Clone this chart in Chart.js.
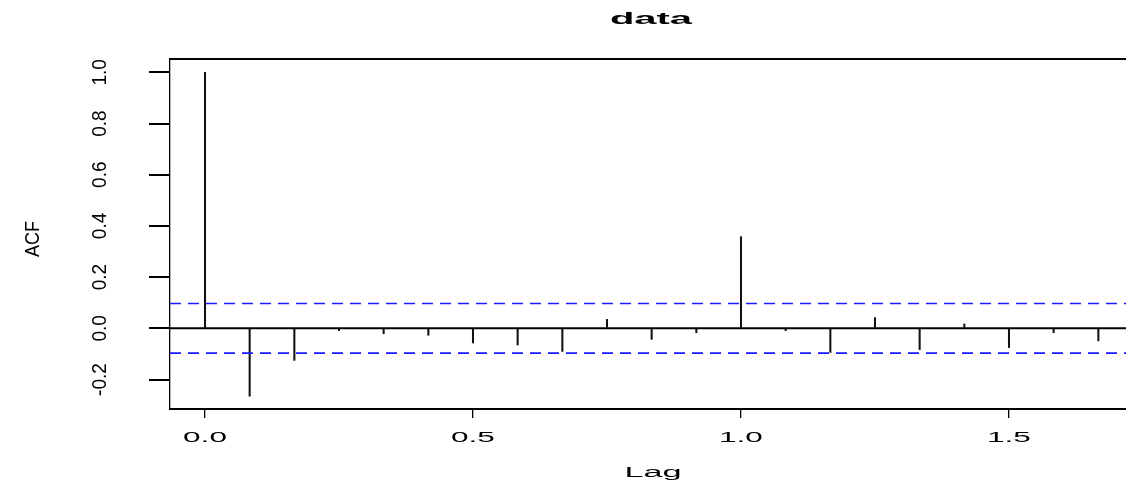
<!DOCTYPE html>
<html>
<head>
<meta charset="utf-8">
<script src="https://cdn.jsdelivr.net/npm/chart.js@4.4.0/dist/chart.umd.min.js"></script>
<style>
  html, body { margin: 0; padding: 0; background: #fff; overflow: hidden; }
  canvas { display: block; }
</style>
</head>
<body>
<canvas id="acfChart" width="1126" height="484"></canvas>
<script>
// lags (years, monthly series) and autocorrelation
const lags = [0, 0.0833, 0.1667, 0.25, 0.3333, 0.4167, 0.5, 0.5833, 0.6667, 0.75, 0.8333,
              0.9167, 1.0, 1.0833, 1.1667, 1.25, 1.3333, 1.4167, 1.5, 1.5833, 1.6667];
const acfValues = [1.0, -0.265, -0.125, -0.009, -0.021, -0.027, -0.057, -0.065, -0.090, 0.035, -0.043,
                   -0.017, 0.358, -0.009, -0.094, 0.042, -0.083, 0.017, -0.075, -0.017, -0.049];
const ciBound = 0.097;
const xTicks = [0, 0.5, 1.0, 1.5];
const xTickLabels = ['0.0', '0.5', '1.0', '1.5'];
const yTicks = [-0.2, 0, 0.2, 0.4, 0.6, 0.8, 1.0];
const yTickLabels = ['-0.2', '0.0', '0.2', '0.4', '0.6', '0.8', '1.0'];
const titleText = 'data';
const xTitle = 'Lag';
const yTitle = 'ACF';

const xMin = -0.0653, xMax = 1.7183;
const yMin = -0.315, yMax = 1.052;
const FONT = "'Liberation Sans', Arial, sans-serif";
const STRETCH = 2.25; // horizontal text is stretched in the original image

function stretchedText(ctx, txt, x, y, font, sx) {
  ctx.save();
  ctx.font = font;
  ctx.textAlign = 'center';
  ctx.textBaseline = 'middle';
  ctx.translate(x, y);
  ctx.scale(sx, 1);
  ctx.fillText(txt, 0, 0);
  ctx.restore();
}

// rotated text reading upwards; k widens glyph height (screen x)
function uprightText(ctx, txt, x, y, font, k) {
  ctx.save();
  ctx.font = font;
  ctx.textAlign = 'center';
  ctx.textBaseline = 'middle';
  ctx.translate(x, y);
  ctx.rotate(-Math.PI / 2);
  ctx.scale(1, k);
  ctx.fillText(txt, 0, 0);
  ctx.restore();
}

const rTextPlugin = {
  id: 'rText',
  afterDraw(chart) {
    const ctx = chart.ctx;
    const area = chart.chartArea;
    const xs = chart.scales.x, ys = chart.scales.y;
    ctx.save();
    // top edge of the box
    ctx.strokeStyle = '#000';
    ctx.lineWidth = 2;
    ctx.beginPath();
    ctx.moveTo(area.left - 0.5, area.top);
    ctx.lineTo(area.right, area.top);
    ctx.stroke();

    ctx.fillStyle = '#000';
    stretchedText(ctx, titleText, 651, 19, 'bold 17px ' + FONT, 2.35);
    xTicks.forEach((v, i) => {
      stretchedText(ctx, xTickLabels[i], xs.getPixelForValue(v), 438, '14px ' + FONT, STRETCH);
    });
    stretchedText(ctx, xTitle, 653, 473, '14px ' + FONT, 2.45);

    yTicks.forEach((v, i) => {
      uprightText(ctx, yTickLabels[i], 100, ys.getPixelForValue(v), '19px ' + FONT, 1.1);
    });
    uprightText(ctx, yTitle, 33, (area.top + area.bottom) / 2 + 5, '18px ' + FONT, 1.15);
    ctx.restore();
  }
};

new Chart(document.getElementById('acfChart'), {
  type: 'bar',
  data: {
    datasets: [
      {
        label: 'ACF',
        data: lags.map((l, i) => ({ x: l, y: acfValues[i] })),
        backgroundColor: '#111',
        borderWidth: 0,
        barThickness: 1.4,
        grouped: false,
        order: 3
      },
      {
        type: 'line',
        label: 'zero',
        data: [{ x: xMin, y: 0 }, { x: xMax, y: 0 }],
        borderColor: '#000',
        borderWidth: 2,
        pointRadius: 0,
        order: 2
      },
      {
        type: 'line',
        label: 'upper',
        data: [{ x: xMin, y: ciBound }, { x: xMax, y: ciBound }],
        borderColor: '#1a1aff',
        borderWidth: 1.7,
        borderDash: [11, 7],
        pointRadius: 0,
        order: 1
      },
      {
        type: 'line',
        label: 'lower',
        data: [{ x: xMin, y: -ciBound }, { x: xMax, y: -ciBound }],
        borderColor: '#1a1aff',
        borderWidth: 1.7,
        borderDash: [11, 7],
        pointRadius: 0,
        order: 1
      }
    ]
  },
  options: {
    responsive: false,
    animation: false,
    events: [],
    layout: { padding: { top: 59, left: 0, right: 0, bottom: 0 } },
    plugins: { legend: { display: false }, title: { display: false }, tooltip: { enabled: false } },
    scales: {
      x: {
        type: 'linear',
        min: xMin, max: xMax,
        offset: false,
        afterBuildTicks: s => { s.ticks = xTicks.map(v => ({ value: v })); },
        afterFit: s => { s.height = 75; },
        ticks: { display: false },
        grid: { offset: false, drawOnChartArea: false, drawTicks: true, tickLength: 9, color: '#000', lineWidth: 1.3 },
        border: { display: true, color: '#000', width: 2 }
      },
      y: {
        type: 'linear',
        min: yMin, max: yMax,
        afterBuildTicks: s => { s.ticks = yTicks.map(v => ({ value: v })); },
        afterFit: s => { s.width = 170; },
        ticks: { display: false },
        grid: { drawOnChartArea: false, drawTicks: true, tickLength: 21, color: '#000', lineWidth: 2 },
        border: { display: true, color: '#000', width: 1.3 }
      }
    }
  },
  plugins: [rTextPlugin]
});
</script>
</body>
</html>
